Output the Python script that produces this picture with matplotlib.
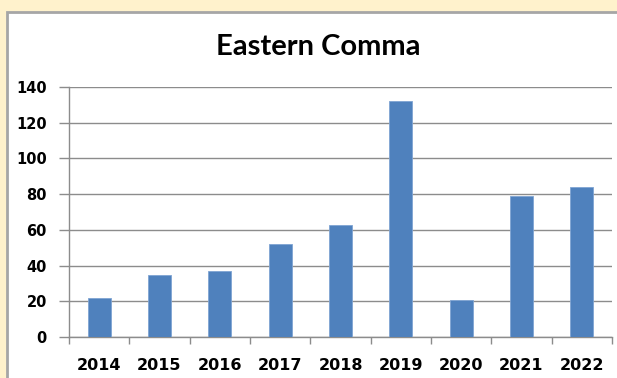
import matplotlib
matplotlib.use("Agg")
import matplotlib.pyplot as plt
from matplotlib.patches import Rectangle
import numpy as np

years = ["2014", "2015", "2016", "2017", "2018", "2019", "2020", "2021", "2022"]
counts = [22, 35, 37, 52, 63, 132, 21, 79, 84]
yticks = [0, 20, 40, 60, 80, 100, 120, 140]
title = "Eastern Comma"

TFONT = ["Lato", "DejaVu Sans"]
LFONT = ["DejaVu Sans"]

fig = plt.figure(figsize=(6.17, 3.78), dpi=100)
fig.patch.set_facecolor("#FFF2CC")

# white chart area with grey border
W, H = 617, 378
fig.patches.append(Rectangle((7 / W, -0.1), 1.2, (H - 12) / H + 0.1, transform=fig.transFigure,
                             facecolor="white", edgecolor="#A6A6A6", linewidth=2.0, zorder=-5))

ax = fig.add_axes([69 / W, 1 - 337 / H, (612 - 69) / W, (337 - 87) / H])
ax.set_zorder(2)
ax.set_facecolor("none")
x = np.arange(len(years))
ax.bar(x, counts, width=0.38, color="#4F81BD", edgecolor="#7FA4D3", linewidth=0.6, zorder=3)

ax.set_xlim(-0.5, len(years) - 0.5)
ax.set_ylim(0, 140)
ax.set_yticks(yticks)
ax.set_yticklabels([str(v) for v in yticks], fontsize=10.5, fontweight="bold", family=LFONT)
ax.yaxis.grid(True, color="#8C8C8C", linewidth=1.0, zorder=1)
ax.set_axisbelow(True)

ax.set_xticks(x)
ax.set_xticklabels(years, fontsize=11.5, fontweight="bold", family=LFONT)
ax.tick_params(axis="x", which="major", length=0, pad=15)
ax.set_xticks(np.arange(-0.5, len(years), 1.0), minor=True)
ax.tick_params(axis="x", which="minor", length=5, color="#8C8C8C", width=1.0)
ax.tick_params(axis="y", length=7, color="#8C8C8C", width=1.0, pad=9)

for s in ["top", "right"]:
    ax.spines[s].set_visible(False)
for s in ["left", "bottom"]:
    ax.spines[s].set_color("#8C8C8C")
    ax.spines[s].set_linewidth(1.0)

fig.text(318 / W, 1 - 47 / H, title, ha="center", va="center", fontsize=21,
         fontweight="bold", family=TFONT)

fig.savefig("out.png", dpi=100, facecolor=fig.get_facecolor())
